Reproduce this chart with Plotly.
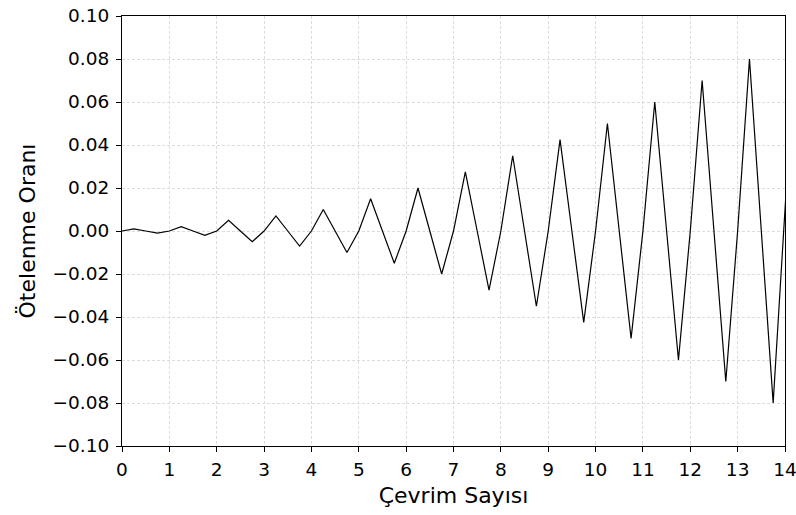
import plotly.graph_objects as go

# Drift ratio amplitude of each loading cycle (one full cycle per unit on the x axis)
cycle_amplitudes = [0.001, 0.002, 0.005, 0.007, 0.010, 0.015, 0.020,
                    0.0275, 0.035, 0.0425, 0.050, 0.060, 0.070, 0.080]
# Start of the next cycle, partly visible at the right edge
next_cycle_x = [14.25]
next_cycle_y = [0.10]

x_ticks = list(range(0, 15))
y_ticks = [-0.10, -0.08, -0.06, -0.04, -0.02, 0.00, 0.02, 0.04, 0.06, 0.08, 0.10]

# Build the loading history: 0 -> +A -> 0 -> -A for every cycle
xs, ys = [], []
for n, amp in enumerate(cycle_amplitudes):
    xs += [n, n + 0.25, n + 0.5, n + 0.75]
    ys += [0.0, amp, 0.0, -amp]
xs += next_cycle_x
ys += next_cycle_y

fig = go.Figure()
fig.add_trace(go.Scatter(
    x=xs, y=ys, mode="lines",
    line=dict(color="black", width=1.2),
    showlegend=False,
    cliponaxis=True,
))

font = "DejaVu Sans, sans-serif"
axis_common = dict(
    showline=True, linecolor="black", linewidth=1, mirror=True,
    ticks="outside", ticklen=5, tickwidth=1, tickcolor="black",
    showgrid=True, gridcolor="#dcdcdc", gridwidth=0.6, griddash="3px,2px",
    zeroline=False, automargin=False, ticklabeloverflow="allow",
    tickfont=dict(family=font, size=18.5, color="black"),
)

fig.update_xaxes(
    range=[0, 14], tickvals=x_ticks, ticklabelstandoff=2,
    title=dict(text="Çevrim Sayısı", font=dict(family=font, size=22, color="black"), standoff=8),
    **axis_common,
)
fig.update_yaxes(
    range=[-0.10, 0.10], tickvals=y_ticks, tickformat=".2f", ticklabelstandoff=3,
    title=dict(text="Ötelenme Oranı", font=dict(family=font, size=22, color="black"), standoff=10),
    **axis_common,
)

fig.update_layout(
    width=796, height=515,
    margin=dict(l=122, r=11, t=16, b=69),
    paper_bgcolor="white", plot_bgcolor="white",
    font=dict(family=font),
)

fig.write_html("out.html")
